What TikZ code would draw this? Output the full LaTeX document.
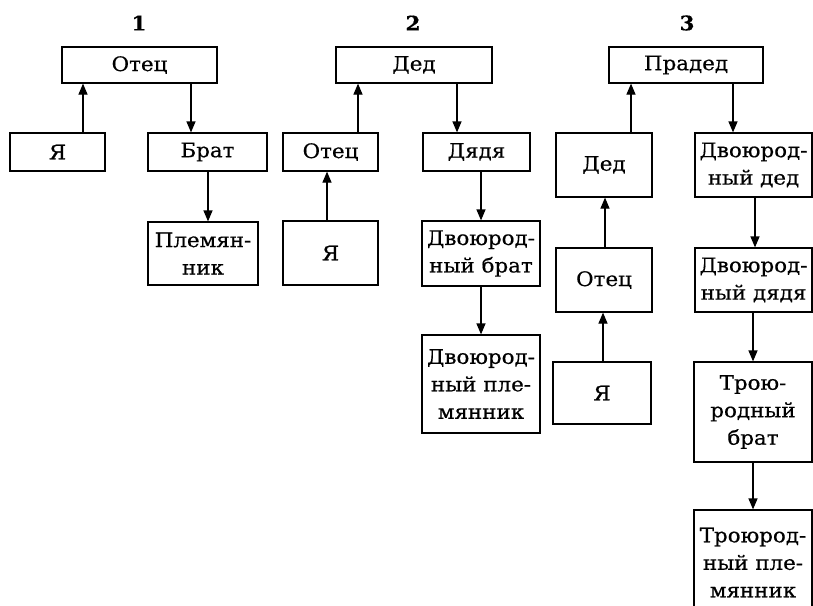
\documentclass[tikz,border=0pt]{standalone}
\usepackage{fontspec}
\setmainfont{DejaVu Serif}[FakeStretch=1.07, FakeBold=0.5]
\usetikzlibrary{arrows.meta}
\tikzset{
  box/.style={draw=black, line width=1.2pt, inner sep=0pt, align=center,
    font=\fontsize{20}{27.5}\selectfont},
  arr/.style={line width=1.2pt, -{Triangle[width=9pt,length=11pt]}},
  num/.style={font=\fontsize{20}{22}\selectfont\bfseries}
}
\begin{document}
\begin{tikzpicture}[x=1pt,y=-1pt]
\useasboundingbox[fill=white] (0,0) rectangle (813,605);
\clip (0,0) rectangle (813,605);
% labels
\node[num] (n1) at (139,23) {1};
\node[num] (n2) at (413,23) {2};
\node[num] (n3) at (687,23) {3};
% panel 1
\node[box, minimum width=155pt, minimum height=36pt] (otec1) at (139.5,65) {Отец};
\node[box, minimum width=95pt, minimum height=38pt] (ya1) at (57.5,152) {Я};
\node[box, minimum width=119pt, minimum height=38pt] (brat1) at (207.5,152) {Брат};
\node[box, minimum width=110pt, minimum height=63pt] (plem1) at (203,253.5) {Племян-\\ник};
\draw[arr] (ya1.north -| 83,0) -- (otec1.south -| 83,0);
\draw[arr] (otec1.south -| 191,0) -- (brat1.north -| 191,0);
\draw[arr] (brat1.south -| 208,0) -- (plem1.north -| 208,0);
% panel 2
\node[box, minimum width=156pt, minimum height=36pt] (ded2) at (414,65) {Дед};
\node[box, minimum width=95pt, minimum height=38pt] (otec2) at (330.5,152) {Отец};
\node[box, minimum width=107pt, minimum height=38pt] (dyadya2) at (476.5,152) {Дядя};
\node[box, minimum width=95pt, minimum height=64pt] (ya2) at (330.5,253) {Я};
\node[box, minimum width=118pt, minimum height=65pt] (dvbrat2) at (481,253.5) {Двоюрод-\\ный брат};
\node[box, minimum width=118pt, minimum height=98pt] (dvplem2) at (481,384) {Двоюрод-\\ный пле-\\мянник};
\draw[arr] (otec2.north -| 358,0) -- (ded2.south -| 358,0);
\draw[arr] (ded2.south -| 457,0) -- (dyadya2.north -| 457,0);
\draw[arr] (ya2.north -| 327,0) -- (otec2.south -| 327,0);
\draw[arr] (dyadya2.south -| 481,0) -- (dvbrat2.north -| 481,0);
\draw[arr] (dvbrat2.south -| 481,0) -- (dvplem2.north -| 481,0);
% panel 3
\node[box, minimum width=154pt, minimum height=36pt] (praded3) at (686,65) {Прадед};
\node[box, minimum width=96pt, minimum height=64pt] (ded3) at (604,165) {Дед};
\node[box, minimum width=117pt, minimum height=64pt] (dvded3) at (753.5,165) {Двоюрод-\\ный дед};
\node[box, minimum width=96pt, minimum height=64pt] (otec3) at (604,280) {Отец};
\node[box, minimum width=117pt, minimum height=64pt] (dvdyadya3) at (753.5,280) {Двоюрод-\\ный дядя};
\node[box, minimum width=98pt, minimum height=62pt] (ya3) at (602,393) {Я};
\node[box, minimum width=118pt, minimum height=100pt] (trbrat3) at (753,412) {Трою-\\родный\\брат};
\node[box, minimum width=118pt, minimum height=105pt] (trplem3) at (753,562.5) {Троюрод-\\ный пле-\\мянник};
\draw[arr] (ded3.north -| 631,0) -- (praded3.south -| 631,0);
\draw[arr] (praded3.south -| 733,0) -- (dvded3.north -| 733,0);
\draw[arr] (otec3.north -| 605,0) -- (ded3.south -| 605,0);
\draw[arr] (ya3.north -| 603,0) -- (otec3.south -| 603,0);
\draw[arr] (dvded3.south -| 755,0) -- (dvdyadya3.north -| 755,0);
\draw[arr] (dvdyadya3.south -| 753,0) -- (trbrat3.north -| 753,0);
\draw[arr] (trbrat3.south -| 753,0) -- (trplem3.north -| 753,0);
\end{tikzpicture}
\end{document}
